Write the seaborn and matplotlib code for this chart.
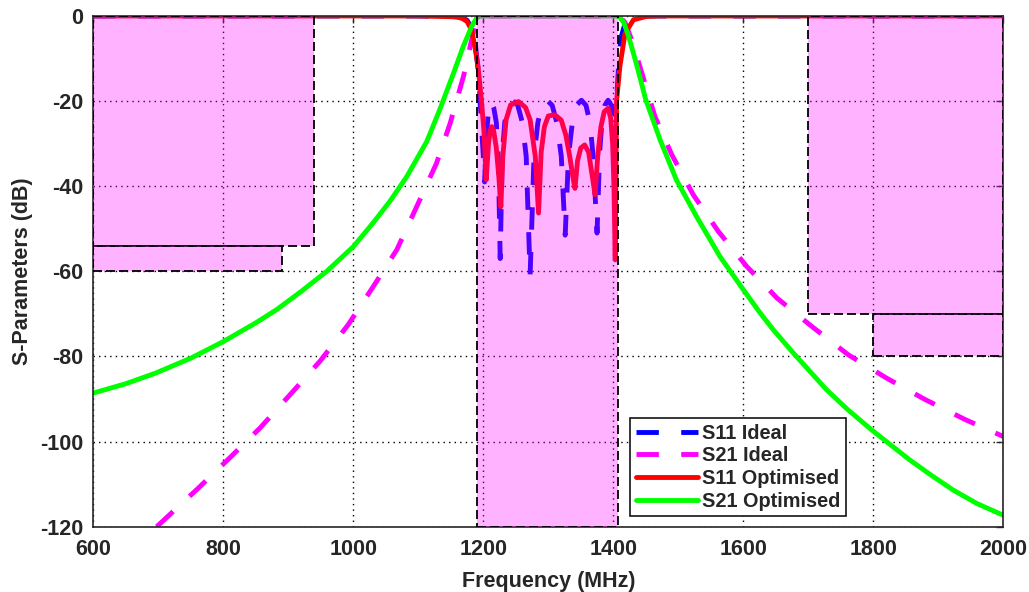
import matplotlib
matplotlib.use("Agg")
import matplotlib.pyplot as plt
from matplotlib.patches import Rectangle
import pandas as pd
import seaborn as sns

# ---- traces (frequency in MHz, level in dB) ----
s11_ideal_f = [600, 1100, 1150, 1165, 1175, 1183, 1188, 1193, 1197, 1200, 1202,
               1205, 1208, 1212, 1216, 1220, 1223, 1226, 1229, 1233, 1238, 1245,
               1253, 1260, 1266, 1272, 1278, 1284, 1290, 1298, 1306, 1313, 1320,
               1326, 1331, 1337, 1343, 1351, 1358, 1364, 1369, 1375, 1379, 1383,
               1387, 1392, 1397, 1401, 1405, 1408, 1412, 1418, 1428, 1445, 2000]
s11_ideal_db = [0, 0, -0.1, -0.3, -1.0, -3.0, -7.0, -14.0, -25.0, -33.0, -39.0,
                -28.0, -22.0, -20.0, -21.5, -25.0, -33.0, -57.0, -33.0, -25.0, -21.0, -19.8,
                -21.0, -25.0, -33.0, -61.0, -33.0, -25.0, -21.0, -19.8, -21.0, -25.0, -33.0,
                -51.5, -33.0, -25.0, -21.0, -19.8, -21.0, -25.0, -33.0, -51.0, -32.0, -24.0,
                -21.0, -19.8, -21.0, -23.0, -20.0, -12.0, -5.0, -1.8, -0.4, 0, 0]

s21_ideal_f = [697.5, 759, 810, 856.5, 902.6, 948.8, 992.3, 1031, 1067, 1097.5,
               1128, 1149, 1169.5, 1182, 1190, 1197, 1405, 1410, 1418, 1428, 1441,
               1464, 1490, 1523, 1561.5, 1605, 1652, 1705, 1761.5, 1820.6, 1879.5,
               1941, 2000]
s21_ideal_db = [-120.0, -111.3, -103.8, -96.8, -89.0, -81.1, -72.5, -63.5, -54.9, -44.8,
                -34.6, -25.2, -14.2, -5.6, -0.9, 0, 0, -0.2, -1.5, -5.5, -11.9,
                -23.6, -32.6, -42.0, -50.6, -58.8, -66.3, -72.9, -79.6, -85.1, -90.1,
                -94.8, -98.8]

s11_opt_f = [600, 1100, 1159, 1168, 1175, 1182, 1187, 1192, 1197, 1201, 1204.5,
             1208, 1210.5, 1213, 1216, 1220, 1224, 1227, 1230, 1235, 1242, 1254,
             1265, 1272, 1280, 1285, 1289, 1294, 1300, 1310, 1320, 1327, 1333,
             1338, 1341, 1345, 1350, 1356, 1362, 1367, 1372, 1376, 1381, 1386,
             1392, 1396, 1399, 1401, 1403, 1405, 1410, 1418, 1431, 1451, 1470, 2000]
s11_opt_db = [0, 0, -0.2, -0.6, -1.3, -3.3, -7.2, -12.0, -19.7, -27.0, -38.5,
              -30.0, -27.0, -26.0, -27.0, -31.0, -38.0, -44.8, -33.0, -24.4, -20.9, -20.1,
              -21.5, -24.4, -33.0, -46.3, -32.0, -26.0, -23.5, -23.2, -24.5, -28.0, -33.0,
              -38.0, -40.5, -34.0, -31.0, -30.3, -32.0, -37.0, -42.0, -33.0, -26.0, -22.5,
              -21.7, -24.0, -30.0, -40.0, -57.3, -20.0, -12.0, -4.1, -0.9, -0.1, 0, 0]

s21_opt_f = [600, 650, 696, 750, 800, 850, 882, 920, 959, 1000, 1031, 1056, 1082,
             1113, 1133, 1154, 1169, 1182, 1190, 1196, 1404, 1410, 1416, 1424,
             1436, 1450, 1472, 1497, 1528, 1564, 1600, 1626, 1646, 1677, 1728,
             1760, 1797, 1856, 1890, 1923, 1960, 2000]
s21_opt_db = [-88.6, -86.4, -83.9, -80.4, -76.5, -72.1, -69.0, -64.7, -60.0, -54.2, -48.5, -43.6, -37.8,
              -29.5, -22.0, -13.5, -7.2, -2.5, -0.4, 0, 0, -0.3, -1.5, -5.0,
              -11.5, -19.7, -29.1, -38.5, -47.1, -56.5, -64.3, -69.8, -73.7, -79.2, -87.8,
              -92.4, -97.2, -104.3, -108.0, -111.4, -114.6, -117.3]

trace_names = ["S11 Ideal", "S21 Ideal", "S11 Optimised", "S21 Optimised"]

# ---- specification mask regions ----
mask_f_lo = [600, 600, 1190, 1700, 1800]
mask_f_hi = [940, 890, 1408, 2000, 2000]
mask_db_top = [0, -54, 0, 0, -70]
mask_db_bot = [-54, -60, -120, -70, -80]

x_ticks = [600, 800, 1000, 1200, 1400, 1600, 1800, 2000]
y_ticks = [0, -20, -40, -60, -80, -100, -120]

sns.set_theme(style="white")
plt.rcParams["font.family"] = ["Liberation Sans", "DejaVu Sans"]
plt.rcParams["font.weight"] = "bold"
plt.rcParams["axes.unicode_minus"] = False

df = pd.concat(
    [
        pd.DataFrame({"Frequency": f, "dB": v, "Trace": n})
        for n, f, v in zip(
            trace_names,
            [s11_ideal_f, s21_ideal_f, s11_opt_f, s21_opt_f],
            [s11_ideal_db, s21_ideal_db, s11_opt_db, s21_opt_db],
        )
    ],
    ignore_index=True,
)

palette = {"S11 Ideal": "#0000FF", "S21 Ideal": "#FF00FF",
           "S11 Optimised": "#FF0000", "S21 Optimised": "#00FF00"}
dashes = {"S11 Ideal": (4.6, 4.6), "S21 Ideal": (4.6, 4.6),
          "S11 Optimised": "", "S21 Optimised": ""}

fig = plt.figure(figsize=(10.29, 5.92), dpi=100)
ax = fig.add_axes([0.0907, 0.1103, 0.8843, 0.8627])

sns.lineplot(data=df, x="Frequency", y="dB", hue="Trace", style="Trace",
             hue_order=trace_names, style_order=trace_names,
             palette=palette, dashes=dashes, estimator=None, sort=False,
             linewidth=3.5, ax=ax)
for ln in ax.get_lines():
    ln.set_solid_joinstyle("round")
    ln.set_dash_joinstyle("round")

# translucent mask boxes laid over the traces
for f0, f1, top, bot in zip(mask_f_lo, mask_f_hi, mask_db_top, mask_db_bot):
    ax.add_patch(Rectangle((f0, bot), f1 - f0, top - bot,
                           facecolor=(1, 0, 1, 0.3), edgecolor="black",
                           linewidth=1.3, linestyle=(0, (5, 2.2)), zorder=3))

ax.set_xlim(600, 2000)
ax.set_ylim(-120, 0)
ax.set_xticks(x_ticks)
ax.set_yticks(y_ticks)
ax.set_axisbelow(True)
ax.grid(True, color="black", linestyle=(0, (1, 3)), linewidth=1.0)
ax.tick_params(direction="in", length=5, width=1.0, top=True, right=True,
               labelsize=15.5, labelcolor="#262626", color="#262626")
ax.tick_params(axis="x", pad=9)
ax.tick_params(axis="y", pad=7)
for s in ax.spines.values():
    s.set_color("#262626")
    s.set_linewidth(1.2)

ax.set_xlabel("Frequency (MHz)", fontsize=15.5, fontweight="bold", color="#262626", labelpad=8)
ax.set_ylabel("S-Parameters (dB)", fontsize=15.5, fontweight="bold", color="#262626", labelpad=5)

handles, labels = ax.get_legend_handles_labels()
leg = ax.legend(handles, labels, loc="lower left", bbox_to_anchor=(0.59, 0.02),
                fontsize=14.3, handlelength=3.1, labelspacing=0.18, borderpad=0.3,
                handletextpad=0.2, borderaxespad=0, frameon=True, fancybox=False,
                framealpha=1, edgecolor="black")
leg.get_frame().set_linewidth(1.1)
leg.set_zorder(5)
for t in leg.get_texts():
    t.set_fontweight("bold")

fig.savefig("out.png", dpi=100)
